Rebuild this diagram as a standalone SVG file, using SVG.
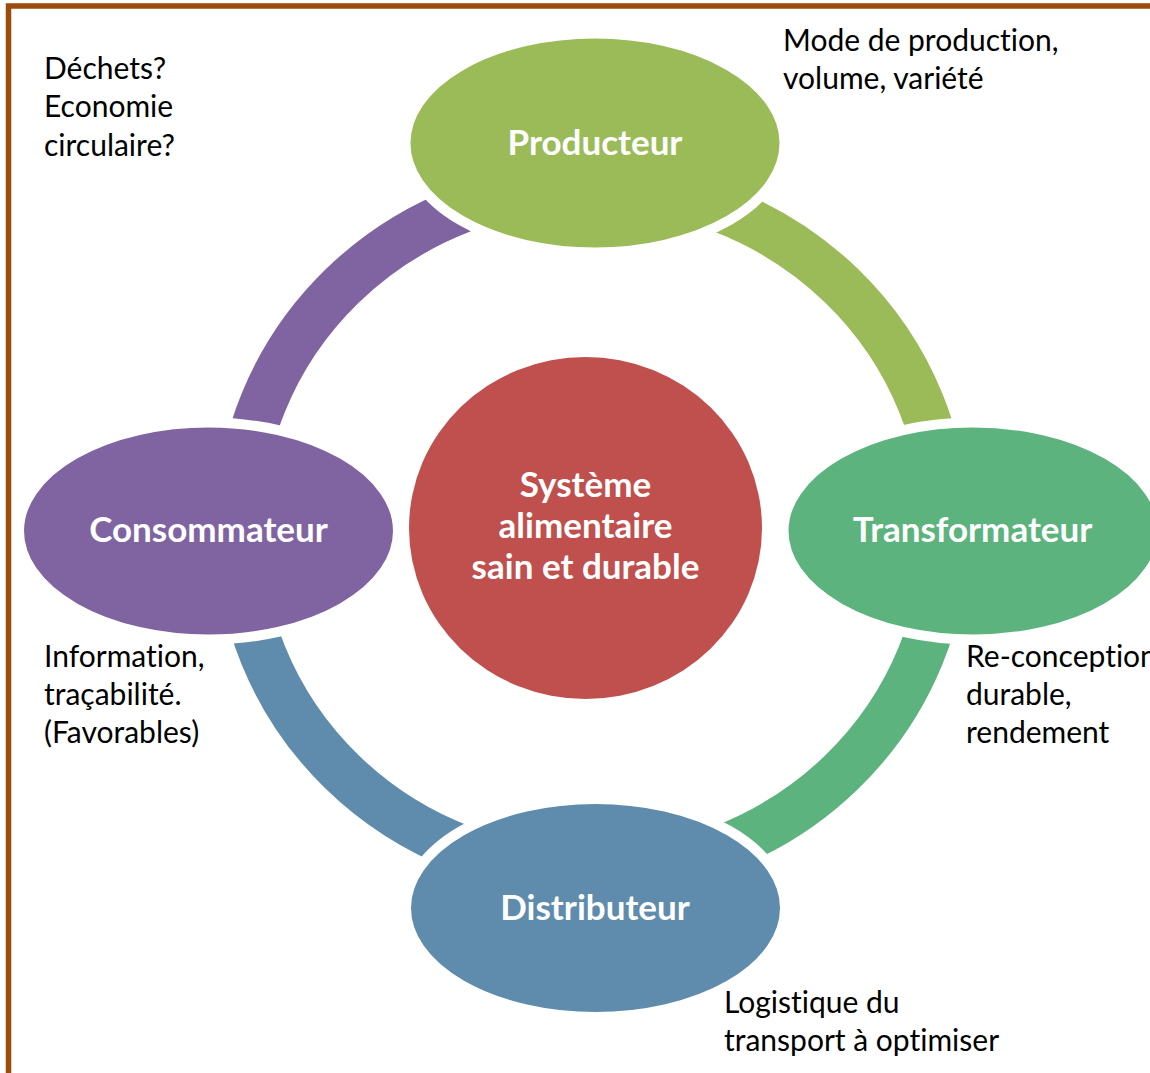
<svg xmlns="http://www.w3.org/2000/svg" width="1150" height="1073" viewBox="0 0 1150 1073">
  <style>
    text { font-variant-ligatures: none; }
    .note { font-family: Lato, "Liberation Sans", sans-serif; font-size: 30px; fill: #000000; }
    .label { font-family: Lato, "Liberation Sans", sans-serif; font-weight: bold; font-size: 35px; fill: #FFFFFF; text-anchor: middle; }
    .ring { fill: none; stroke-width: 47; stroke-linecap: butt; }
    .node { stroke: #FFFFFF; stroke-width: 10; }
  </style>

  <rect width="1150" height="1073" fill="#FFFFFF"/>
  <!-- frame -->
  <rect x="8.5" y="6" width="1160" height="1100" fill="none" stroke="#9D4B0B" stroke-width="5.5"/>

  <!-- cycle connectors (ring segments between stages) -->
  <g id="connectors">
    <path class="ring" stroke="#9BBB59" d="M592,185.5 A353.5,343.5 0 0 1 945.5,529"/>
    <path class="ring" stroke="#5CB37D" d="M945.5,529 A353.5,343.5 0 0 1 592,872.5"/>
    <path class="ring" stroke="#5F8CAD" d="M592,872.5 A353.5,343.5 0 0 1 238.5,529"/>
    <path class="ring" stroke="#8064A2" d="M238.5,529 A353.5,343.5 0 0 1 592,185.5"/>
  </g>

  <g id="centre">
    <ellipse cx="585.5" cy="528" rx="176.5" ry="171" fill="#C0504D"/>
    <text class="label" x="585.5" y="497">Système</text>
    <text class="label" x="585.5" y="538">alimentaire</text>
    <text class="label" x="585.5" y="579">sain et durable</text>
  </g>

  <!-- stage ellipses: the white outline leaves a gap where the ring meets them -->
  <g id="producteur">
    <ellipse class="node" cx="595" cy="143" rx="189.5" ry="109.5" fill="#9BBB59"/>
    <text class="label" x="595" y="155">Producteur</text>
  </g>

  <g id="transformateur">
    <ellipse class="node" cx="973" cy="531" rx="189.5" ry="108.5" fill="#5CB37D"/>
    <text class="label" x="972.5" y="542">Transformateur</text>
  </g>

  <g id="distributeur">
    <ellipse class="node" cx="595.5" cy="908" rx="189.5" ry="109" fill="#5F8CAD"/>
    <text class="label" x="595" y="920">Distributeur</text>
  </g>

  <g id="consommateur">
    <ellipse class="node" cx="208.5" cy="531" rx="189.5" ry="108.5" fill="#8064A2"/>
    <text class="label" x="208.5" y="542">Consommateur</text>
  </g>

  <!-- annotations -->
  <g id="notes">
    <text class="note" x="44" y="79">Déchets?</text>
    <text class="note" x="44" y="117">Economie</text>
    <text class="note" x="44" y="156">circulaire?</text>

    <text class="note" x="783" y="51">Mode de production,</text>
    <text class="note" x="783" y="89">volume, variété</text>

    <text class="note" x="966" y="667">Re-conception</text>
    <text class="note" x="966" y="705">durable,</text>
    <text class="note" x="966" y="743">rendement</text>

    <text class="note" x="44" y="667">Information,</text>
    <text class="note" x="44" y="705">traçabilité.</text>
    <text class="note" x="44" y="743">(Favorables)</text>

    <text class="note" x="724" y="1013">Logistique du</text>
    <text class="note" x="724" y="1051">transport à optimiser</text>
  </g>
</svg>
